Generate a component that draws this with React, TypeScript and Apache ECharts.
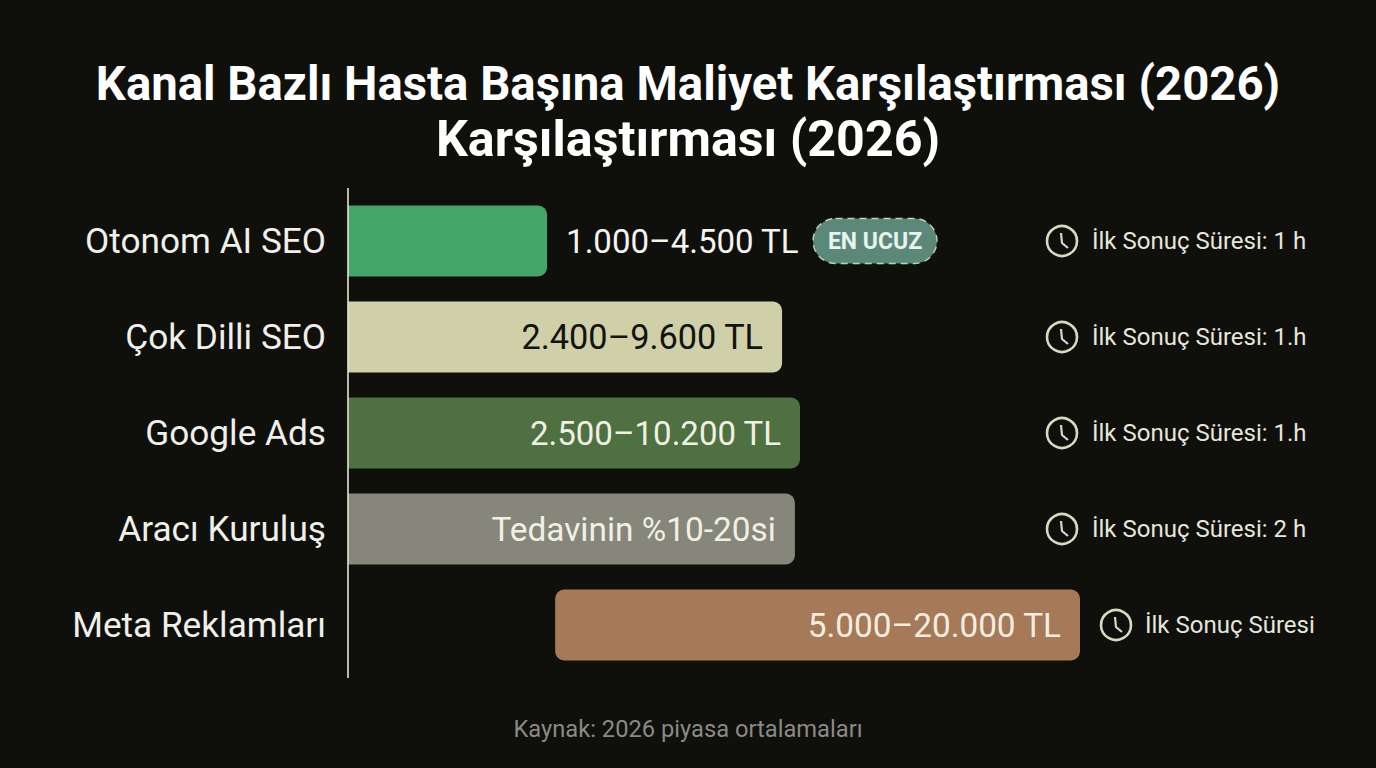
import React, { useEffect, useRef } from "react";
import * as echarts from "echarts";

const titleLines = ["Kanal Bazlı Hasta Başına Maliyet Karşılaştırması (2026)", "Karşılaştırması (2026)"];
const sourceNote = "Kaynak: 2026 piyasa ortalamaları";
const categories = ["Otonom AI SEO", "Çok Dilli SEO", "Google Ads", "Aracı Kuruluş", "Meta Reklamları"];
// Bar extents as drawn in the picture (axis units, TL scale with the longest bar ending at 20.000)
const barStarts = [0, 0, 0, 0, 5660];
const barEnds = [5440, 11860, 12350, 12210, 20000];
const barLabels = ["1.000–4.500 TL", "2.400–9.600 TL", "2.500–10.200 TL", "Tedavinin %10-20si", "5.000–20.000 TL"];
const barColors = ["#45a568", "#cfcfa8", "#4f7040", "#86867a", "#a67a58"];
const labelColors = ["#f5f5ee", "#12120e", "#f0f0e4", "#f0f0e4", "#f5eee0"];
const labelSizes = [33, 34.3, 33, 33.4, 33.3];
const timeLabels = ["İlk Sonuç Süresi: 1 h", "İlk Sonuç Süresi: 1.h", "İlk Sonuç Süresi: 1.h", "İlk Sonuç Süresi: 2 h", "İlk Sonuç Süresi"];
const badgeText = "EN UCUZ";

const FONT = "Roboto";
const BG = "#0f0f0c";
const CREAM = "#d9d9c2";

export default function App() {
  const ref = useRef<HTMLDivElement>(null);
  useEffect(() => {
    document.body.style.margin = "0";
    document.body.style.background = BG;
    const chart = echarts.init(ref.current!, null, { renderer: "svg" });
    const gridTop = 193;
    const band = 96;
    const rowY = (i: number) => gridTop + band * i + band / 2;

    const clock = (cx: number, cy: number) => ({
      type: "group",
      x: cx,
      y: cy,
      children: [
        { type: "circle", shape: { cx: 0, cy: 0, r: 15 }, style: { fill: "transparent", stroke: CREAM, lineWidth: 2.6 } },
        {
          type: "polyline",
          shape: { points: [[-1, -8], [0, 2], [6, 7]] },
          style: { fill: "none", stroke: CREAM, lineWidth: 2.2 },
        },
      ],
    });

    const graphics: any[] = [
      { type: "line", shape: { x1: 348, y1: 188, x2: 348, y2: 678 }, style: { stroke: "#e4e4d8", lineWidth: 1.6 }, z: 10 },
      {
        type: "rect",
        shape: { x: 813, y: 218.5, width: 124, height: 45, r: 22.5 },
        style: { fill: "#5b8879", stroke: "#b9d0c6", lineWidth: 1.4, lineDash: [7, 5] },
      },
      {
        type: "text",
        x: 875,
        y: 241,
        style: { text: badgeText, fill: "#e6f5ee", font: `700 23px ${FONT}`, textAlign: "center", textVerticalAlign: "middle" },
      },
    ];
    timeLabels.forEach((t, i) => {
      const last = i === timeLabels.length - 1;
      graphics.push(clock(last ? 1116 : 1062, rowY(i)));
      graphics.push({
        type: "text",
        x: last ? 1145 : 1092,
        y: rowY(i),
        style: { text: t, fill: "#e6e6dc", font: `400 24px ${FONT}`, textAlign: "left", textVerticalAlign: "middle" },
      });
    });

    chart.setOption({
      animation: false,
      backgroundColor: BG,
      textStyle: { fontFamily: FONT },
      title: [
        {
          text: titleLines[0],
          left: "center",
          top: 51,
          textStyle: { color: "#ffffff", fontFamily: FONT, fontWeight: 700, fontSize: 47.3, lineHeight: 55 },
        },
        {
          text: titleLines[1],
          left: "center",
          top: 106,
          textStyle: { color: "#ffffff", fontFamily: FONT, fontWeight: 700, fontSize: 50.2, lineHeight: 55 },
        },
        {
          text: sourceNote,
          left: "center",
          top: 712,
          textStyle: { color: "#8a8a84", fontFamily: FONT, fontWeight: 400, fontSize: 23.7 },
        },
      ],
      grid: { left: 348, top: gridTop, width: 732, height: band * categories.length },
      xAxis: { type: "value", min: 0, max: 20000, show: false },
      yAxis: {
        type: "category",
        inverse: true,
        data: categories,
        axisLine: { show: false },
        axisTick: { show: false },
        axisLabel: { color: "#f0f0ea", fontFamily: FONT, fontSize: 35.2, margin: 22 },
      },
      series: [
        {
          type: "bar",
          stack: "range",
          silent: true,
          barWidth: 71,
          itemStyle: { color: "transparent" },
          data: barStarts,
        },
        {
          type: "bar",
          stack: "range",
          barWidth: 71,
          data: barEnds.map((end, i) => ({
            value: end - barStarts[i],
            itemStyle: {
              color: barColors[i],
              borderRadius: barStarts[i] === 0 ? [0, 9, 9, 0] : 9,
            },
            label: {
              show: true,
              formatter: barLabels[i],
              position: i === 0 ? "right" : "insideRight",
              distance: 19,
              color: labelColors[i],
              fontFamily: FONT,
              fontSize: labelSizes[i],
            },
          })),
        },
      ],
      graphic: graphics,
    });
    return () => chart.dispose();
  }, []);
  return <div ref={ref} style={{ position: "fixed", left: 0, top: 0, width: 1376, height: 768 }} />;
}
